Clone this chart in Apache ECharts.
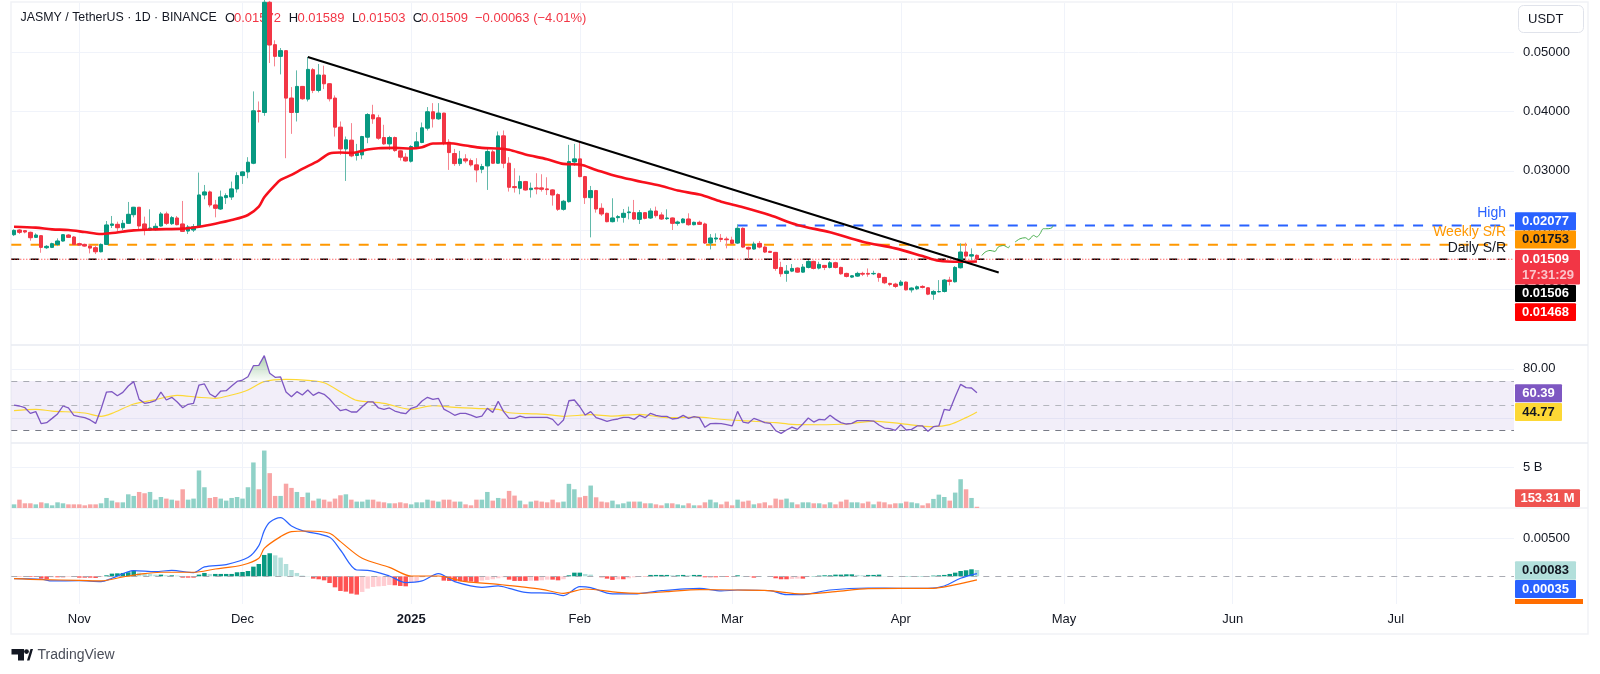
<!DOCTYPE html>
<html>
<head>
<meta charset="utf-8">
<title>JASMY / TetherUS</title>
<script src="https://cdn.jsdelivr.net/npm/echarts@6/dist/echarts.min.js"></script>
<style>
  html, body { margin: 0; padding: 0; background: #fff; }
  #chart { width: 1600px; height: 674px; }
</style>
</head>
<body>
<div id="chart"></div>
<script>
// daily bars from 2024-10-20 to 2025-04-15, prices in units of 0.00001 USDT
const opens = [
  1921,2000,1989,1961,1876,1904,1701,1707,1757,1814,
  1915,1882,1769,1757,1729,1701,1633,1757,2079,2096,
  2039,2113,2259,2384,2102,2000,2006,2068,2271,2107,
  2203,2102,1983,2000,2051,2592,2643,2423,2355,2547,
  2558,2694,2919,2981,3128,4013,3985,5846,5130,4933,
  5029,4228,3985,4425,4211,4707,4358,4617,4470,4228,
  3737,3370,3517,3258,3269,3568,3946,3895,3562,3455,
  3562,3337,3230,3162,3404,3478,3720,3997,3878,3974,
  3483,3292,3122,3201,3173,3100,3026,3083,3320,3128,
  3590,3128,2733,2705,2818,2682,2711,2711,2694,2677,
  2598,2350,2479,3150,3201,2902,2547,2666,2367,2282,
  2141,2209,2214,2293,2293,2180,2293,2203,2321,2254,
  2192,2203,2113,2124,2186,2090,2130,2102,1780,1848,
  1859,1848,1831,1780,2028,1707,1679,1774,1712,1639,
  1622,1368,1267,1306,1357,1289,1368,1470,1357,1402,
  1368,1447,1368,1267,1205,1222,1267,1267,1261,1261,
  1199,1098,1086,1069,1120,990,1007,1047,1024,917,
  957,962,1154,1126,1363,1628,1560,1572
];
const highs = [
  2011,2017,2000,1972,1944,1915,1746,1786,1859,1932,
  1932,1898,1786,1769,1757,1746,1774,2152,2237,2141,
  2169,2474,2384,2384,2226,2350,2113,2305,2310,2237,
  2237,2491,2085,2102,2970,2761,2666,2508,2666,2620,
  2818,2976,2987,3230,4341,4171,5980,5870,5204,5074,
  5029,4414,4696,4425,4922,4735,4803,4775,4470,4273,
  3833,3579,3805,3455,3590,3974,4115,3946,3777,3590,
  3579,3354,3297,3433,3653,3816,4076,4143,4143,3980,
  3534,3370,3337,3280,3207,3213,3117,3399,3354,3664,
  3681,3230,3043,2919,2829,2801,2959,2942,2891,2688,
  2620,2508,3438,3455,3495,2914,2744,2677,2451,2293,
  2536,2254,2355,2395,2508,2338,2299,2367,2395,2299,
  2350,2209,2158,2203,2282,2141,2158,2124,1932,1944,
  1932,1887,1887,2096,2045,1718,1803,1814,1729,1650,
  1628,1464,1408,1425,1368,1425,1492,1481,1464,1408,
  1475,1464,1380,1278,1239,1295,1295,1351,1312,1278,
  1210,1109,1109,1154,1131,1030,1064,1069,1030,985,
  1154,1171,1210,1391,1774,1786,1690,1589
];
const lows = [
  1898,1932,1944,1820,1865,1616,1679,1695,1729,1803,
  1865,1746,1735,1718,1605,1594,1622,1746,2034,1972,
  2000,2102,2214,2011,1910,1983,1989,2056,2085,2085,
  2079,1966,1932,1966,2039,2519,2384,2214,2338,2440,
  2508,2632,2778,2874,3111,3816,3929,4820,4764,4628,
  3213,3624,3833,4200,4171,4312,4324,4380,4171,3579,
  3269,2829,3230,3173,3196,3466,3794,3523,3438,3354,
  3320,3173,3156,3139,3382,3466,3681,3731,3861,3433,
  3015,3083,3083,3128,3072,2806,2959,2677,3117,3117,
  3043,2649,2632,2603,2666,2547,2603,2649,2592,2412,
  2321,2327,2462,3083,2891,2440,1876,2293,2237,2130,
  2130,2141,2124,2180,2169,2102,2180,2186,2209,2169,
  2169,2000,2073,2113,2073,2079,2085,1763,1673,1791,
  1797,1690,1763,1763,1695,1504,1667,1690,1611,1611,
  1312,1210,1126,1289,1278,1278,1351,1334,1334,1323,
  1351,1351,1244,1199,1188,1210,1222,1210,1239,1126,
  1086,1052,1019,1052,979,945,985,1013,900,821,
  945,945,1064,1114,1351,1447,1492,1503
];
const closes = [
  1994,1961,1966,1870,1915,1707,1724,1769,1814,1921,
  1876,1757,1746,1729,1695,1633,1757,2085,2102,2039,
  2113,2265,2384,2068,2011,2034,2062,2271,2113,2209,
  2090,1977,2051,2056,2592,2643,2423,2367,2558,2581,
  2694,2919,2981,3145,4013,4002,5846,5125,4933,5029,
  4228,3985,4425,4217,4713,4358,4617,4470,4217,3737,
  3370,3523,3252,3297,3579,3951,3878,3551,3455,3562,
  3342,3230,3167,3410,3489,3726,3997,3878,3974,3466,
  3308,3122,3201,3167,3100,3015,3072,3325,3128,3590,
  3128,2722,2716,2818,2677,2705,2694,2688,2682,2592,
  2350,2485,3156,3201,2902,2547,2666,2355,2271,2141,
  2203,2226,2282,2305,2186,2293,2197,2321,2243,2186,
  2203,2113,2135,2186,2090,2130,2096,1780,1865,1865,
  1842,1836,1774,2028,1712,1679,1763,1712,1628,1622,
  1351,1261,1306,1351,1289,1374,1470,1351,1419,1368,
  1447,1368,1261,1216,1227,1267,1255,1255,1267,1199,
  1109,1081,1047,1120,990,1019,1041,1030,917,962,
  962,1154,1131,1368,1628,1560,1583,1509
];
// red moving average, [bar, price]
const maPoints = [
  [0,2056],[4,2040],[7,2011],[10,2000],[13,1966],[16,1932],[18,1949],[22,1994],[26,2011],[31,2023],
  [34,2056],[37,2107],[40,2169],[43,2254],[45,2395],[46,2553],[48,2761],[49,2846],[51,2931],[53,3032],
  [56,3173],[58,3292],[60,3308],[62,3303],[65,3359],[67,3382],[70,3387],[73,3376],[75,3399],[77,3461],
  [80,3466],[83,3427],[86,3387],[89,3376],[91,3354],[94,3275],[98,3196],[101,3117],[104,3105],[107,3015],
  [111,2902],[116,2801],[119,2744],[122,2666],[126,2598],[130,2479],[134,2384],[139,2248],[144,2085],
  [150,1961],[156,1803],[162,1690],[167,1560],[170,1481],[174,1464],[177,1468]
];
// drawn levels and lines
const highLevel = 2077;
const weeklyLevel = 1753;
const dailyLevel = 1506;
const highStart = 133;
const trendPoints = [[54,4922],[181,1283]];
const forecastA = [[177.9,1570],[178.5,1626],[179.4,1655],[180.3,1638],[180.9,1711],[181.9,1739],[182.8,1701],[183,1734]];
const forecastB = [[184,1796],[184.9,1852],[185.9,1870],[186.5,1836],[187.4,1909],[188,1881],[188.6,1937],[189.2,2022],[190.1,2022],[190.8,2039],[191,2078]];

const rsiValues = [
  50.4,49.6,48.2,43.6,45.0,35.2,36.0,39.5,43.1,49.6,
  48.0,42.0,40.9,40.1,38.2,35.4,47.1,61.0,61.3,58.0,
  60.7,65.9,69.5,55.0,51.8,52.6,53.9,61.0,54.5,56.7,
  52.9,48.2,51.0,51.8,66.7,67.6,59.4,56.9,61.8,62.1,
  65.9,69.7,70.8,73.5,82.5,82.8,90.7,76.3,73.0,73.3,
  61.0,57.2,61.3,58.6,62.7,58.3,60.7,59.1,55.3,50.1,
  45.8,46.9,44.7,44.7,49.0,52.9,52.9,48.0,46.9,48.0,
  45.5,44.1,43.3,47.7,49.0,53.7,56.7,55.0,55.9,47.1,
  44.7,42.0,43.6,43.6,42.2,40.3,41.4,47.7,44.4,53.4,
  45.0,39.5,39.5,41.4,40.1,40.3,40.3,40.3,40.3,38.7,
  33.8,38.2,53.9,54.5,49.0,42.2,45.0,40.1,38.7,37.1,
  38.2,39.0,40.3,40.3,38.7,42.0,40.1,43.6,42.0,41.2,
  41.2,39.0,39.5,42.0,39.5,40.9,40.1,32.2,35.2,35.4,
  35.2,34.4,33.3,45.2,36.5,35.7,39.5,37.9,36.0,35.4,
  29.5,27.3,30.0,32.4,30.5,34.9,39.8,36.5,38.7,38.2,
  42.0,38.7,36.0,34.9,35.4,37.6,37.6,37.6,37.3,34.1,
  31.6,31.1,29.7,34.4,30.0,30.5,33.3,33.3,28.9,32.7,
  33.3,46.9,46.1,57.2,67.3,64.6,64.3,60.39
];
const rsiMaPoints = [
  [0,45.8],[4,46.9],[7,45.5],[13,43.9],[16,41.2],[18,43.6],[22,51.2],[26,54.8],[30,58.3],[34,56.7],
  [37,55.9],[40,58.6],[43,62.7],[46,69.5],[50,71.4],[54,70.5],[57,68.6],[61,58.6],[63,54.2],[68,51.8],
  [73,46.9],[77,49.9],[81,48.5],[86,47.4],[89,46.9],[91,44.1],[96,43.1],[99,42.2],[101,41.2],[106,42.5],
  [110,41.4],[115,42.8],[120,40.1],[126,40.6],[129,39.2],[134,37.6],[140,36.0],[143,34.6],[148,34.3],
  [153,34.9],[158,37.3],[163,35.2],[169,32.7],[172,34.4],[175,40.1],[177,44.77]
];
// volume in billions
const volumes = [
  .45,1.03,.58,.58,.45,.70,.58,.33,.70,.58,
  .45,.45,.45,.33,.45,.45,.58,1.24,.91,.70,
  .70,1.69,1.49,1.98,1.82,1.98,1.03,1.36,1.16,1.03,
  .91,2.31,1.03,1.16,4.63,2.56,1.24,1.36,1.16,.91,
  1.24,1.36,1.16,2.56,5.62,2.31,7.09,4.30,1.49,1.49,
  3.00,2.48,1.98,1.36,1.90,.91,1.16,1.03,.79,1.16,
  1.57,1.69,1.03,.79,.79,1.03,1.03,.79,.70,.58,
  .58,.70,.58,.45,.70,.70,1.03,.91,.79,1.03,
  1.03,.79,.79,.45,.33,1.03,1.03,1.98,.91,1.24,
  1.16,2.11,1.53,.91,.45,.79,.91,.79,.70,1.03,
  .70,.79,2.98,2.31,1.32,1.49,2.77,1.32,.79,.70,
  .91,.45,.58,.79,.79,.79,.58,.58,.45,.33,
  .58,.58,.45,.33,.58,.33,.33,.70,1.03,.70,
  .45,.79,.33,1.03,.79,.91,.45,.58,.70,.33,
  1.16,1.03,1.16,.70,.45,.70,.70,.58,.58,.45,
  .70,.45,.79,1.03,.70,.70,.58,.79,.45,.79,
  .70,.45,.58,.58,.79,.70,.58,.33,.58,1.12,
  1.65,1.36,.91,1.90,3.55,2.31,1.24,.15331
];
// MACD in units of 0.00001
const macdPoints = [
  [0,-31],[5,-39],[7,-61],[12,-57],[16,-70],[18,-26],[22,75],[26,61],[29,79],[33,48],[35,123],[39,154],
  [43,246],[45,404],[46,601],[47,711],[49,772],[51,662],[53,601],[58,513],[60,346],[63,83],[65,79],[69,4],
  [72,-83],[75,-61],[78,35],[81,-70],[86,-145],[89,-127],[91,-158],[94,-211],[99,-224],[101,-254],[104,-136],
  [106,-149],[110,-232],[114,-232],[119,-189],[126,-158],[130,-193],[133,-180],[139,-189],[142,-241],[145,-241],
  [150,-180],[157,-154],[163,-158],[168,-158],[171,-127],[174,-26],[177,35]
];
const signalPoints = [
  [0,-31],[5,-44],[12,-53],[16,-61],[20,-9],[23,26],[27,53],[33,53],[37,96],[42,149],[45,237],[46,368],
  [49,522],[51,588],[54,596],[58,566],[60,456],[64,237],[69,118],[73,4],[78,4],[83,-70],[89,-105],[93,-136],
  [97,-171],[101,-224],[105,-167],[111,-211],[115,-224],[120,-202],[126,-175],[133,-180],[138,-184],[145,-232],
  [151,-202],[157,-162],[169,-158],[172,-127],[177,-48]
];
const macdHist = [
  -4,-4,-4,-9,-9,-31,-35,-13,-13,-13,
  -9,-9,-18,-18,-18,-22,-9,13,35,39,
  44,53,75,48,39,31,22,22,13,13,
  9,-18,-18,-18,22,44,31,31,31,31,
  31,53,57,70,127,162,281,303,276,246,
  162,83,44,9,4,-31,-39,-53,-88,-145,
  -193,-202,-228,-241,-206,-162,-140,-132,-127,-114,
  -118,-127,-132,-79,-75,-13,0,0,0,-57,
  -61,-63,-66,-68,-70,-75,-57,-48,-39,-26,
  -13,-44,-61,-61,-61,-57,-57,-53,-44,-44,
  -53,-39,13,48,48,31,22,0,-13,-31,
  -48,-39,-39,-26,-13,-4,-4,18,18,18,
  18,13,13,18,13,18,18,-13,-13,-13,
  -9,-9,0,13,4,-4,-18,4,0,0,
  -26,-39,-39,-35,-31,-31,-4,4,9,13,
  13,22,22,26,26,18,13,18,18,22,
  4,4,2,4,4,4,4,4,4,9,
  13,18,31,48,70,79,92,83
];
// time axis
const monthBars = [12, 42, 73, 104, 132, 163, 193, 224, 254];
const monthLabels = ['Nov', 'Dec', '2025', 'Feb', 'Mar', 'Apr', 'May', 'Jun', 'Jul'];
// price axis ticks
const priceTicks = [0.01, 0.02, 0.03, 0.04, 0.05];
const rsiTicks = [40, 80];
const volumeTicks = [5];
const macdTicks = [0.005];

const FONT = '"Liberation Sans", sans-serif';
const UP = '#089981';
const DOWN = '#f23645';
const UP_WICK = '#62b9aa';
const DOWN_WICK = '#f6848f';
const GRID_LINE = '#f0f3fa';
const FRAME = '#e8ebf2';
const OUTER = '#f1f2f6';
const P = 1e-5;

const toPrice = p => [p[0], p[1] * P];

const xMin = -0.5;
const xMax = 275.72;
const left = 11.3;
const width = 1502.7;

function xAxis(gridIndex, showLabels) {
  return {
    type: 'value', gridIndex, min: xMin, max: xMax,
    axisLine: { show: false },
    axisTick: { show: false, customValues: monthBars },
    splitLine: { show: true, lineStyle: { color: GRID_LINE, width: 1 } },
    axisLabel: {
      show: showLabels,
      customValues: monthBars,
      margin: 9,
      fontFamily: FONT, fontSize: 13, color: '#131722',
      formatter: v => {
        const s = monthLabels[monthBars.indexOf(v)];
        return s === '2025' ? '{b|2025}' : s;
      },
      rich: { b: { fontFamily: FONT, fontSize: 13, fontWeight: 'bold', color: '#131722' } }
    }
  };
}
function yAxis(gridIndex, min, max, ticks, fmt) {
  return {
    type: 'value', gridIndex, position: 'right', min, max, scale: true,
    axisLine: { show: false },
    axisTick: { show: false, customValues: ticks },
    splitLine: { show: true, lineStyle: { color: GRID_LINE, width: 1 } },
    axisLabel: { customValues: ticks, margin: 9, fontFamily: FONT, fontSize: 13, color: '#131722', formatter: fmt }
  };
}
function lineOn(grid, name, data, color, w, extra) {
  return Object.assign({
    name, type: 'line', xAxisIndex: grid, yAxisIndex: grid, data,
    showSymbol: false, symbol: 'none', silent: true,
    lineStyle: { color, width: w }, z: 5
  }, extra || {});
}
function hLine(name, x0, value, color, w, dash, z) {
  return lineOn(0, name, [[x0, value * P], [xMax, value * P]], color, w, {
    lineStyle: { color, width: w, type: dash }, z: z || 3
  });
}

const candleData = opens.map((o, i) => [i, o * P, closes[i] * P, lows[i] * P, highs[i] * P]);
// same bars without wicks, drawn over the paler wicks
const bodyData = opens.map((o, i) => [i, o * P, closes[i] * P, Math.min(o, closes[i]) * P, Math.max(o, closes[i]) * P]);
const volumeData = volumes.map((v, i) => ({
  value: [i, v],
  itemStyle: { color: closes[i] >= opens[i] ? '#8fd1c7' : '#f8a5a5' }
}));
const histData = macdHist.map((v, i) => {
  const prev = i ? macdHist[i - 1] : 0;
  let color;
  if (v >= 0) color = v >= prev ? '#089981' : '#b2dfdb';
  else color = v <= prev ? '#ff5252' : '#ffcdd2';
  return { value: [i, v * P], itemStyle: { color } };
});

// side tags
function tag(x, y, w, h, fill, text, color) {
  return [
    { type: 'rect', z: 50, shape: { x, y, width: w, height: h, r: 1 }, style: { fill } },
    { type: 'text', z: 51, x: x + w / 2, y: y + h / 2,
      style: { text, fill: color, font: 'bold 13px ' + FONT, textAlign: 'center', textVerticalAlign: 'middle' } }
  ];
}
function label(x, y, text, color, size) {
  return { type: 'text', z: 1, x, y,
    style: { text, fill: color, font: (size || 13) + 'px ' + FONT, textVerticalAlign: 'middle' } };
}

const graphics = [
  { type: 'rect', z: 0, shape: { x: 11, y: 2, width: 1577, height: 632 }, style: { fill: 'none', stroke: OUTER, lineWidth: 1.5 } },
  { type: 'line', z: 0, shape: { x1: 11, y1: 345, x2: 1588, y2: 345 }, style: { stroke: FRAME, lineWidth: 1.5 } },
  { type: 'line', z: 0, shape: { x1: 11, y1: 443, x2: 1588, y2: 443 }, style: { stroke: FRAME, lineWidth: 1.5 } },
  { type: 'line', z: 0, shape: { x1: 11, y1: 508, x2: 1588, y2: 508 }, style: { stroke: OUTER, lineWidth: 1.5 } },

  label(20.5, 18, 'JASMY / TetherUS · 1D · BINANCE', '#131722', 12.4),
  label(225, 18, 'O', '#131722'), label(234, 18, '0.01572', DOWN),
  label(288.7, 18, 'H', '#131722'), label(297.5, 18, '0.01589', DOWN),
  label(352, 18, 'L', '#131722'), label(358.5, 18, '0.01503', DOWN),
  label(412.7, 18, 'C', '#131722'), label(421, 18, '0.01509', DOWN),
  label(475, 18, '−0.00063 (−4.01%)', DOWN),

  { type: 'rect', z: 50, shape: { x: 1518.5, y: 5.5, width: 65, height: 27, r: 5 }, style: { fill: '#fff', stroke: '#e0e3eb', lineWidth: 1 } },
  { type: 'text', z: 51, x: 1528, y: 19, style: { text: 'USDT', fill: '#131722', font: '13px ' + FONT, textVerticalAlign: 'middle' } },

  { type: 'text', z: 51, x: 1506, y: 213, style: { text: 'High', fill: '#2962ff', font: '14px ' + FONT, textAlign: 'right', textVerticalAlign: 'middle' } },
  { type: 'text', z: 51, x: 1506, y: 232, style: { text: 'Weekly S/R', fill: '#ff9800', font: '14px ' + FONT, textAlign: 'right', textVerticalAlign: 'middle' } },
  { type: 'text', z: 51, x: 1506, y: 248, style: { text: 'Daily S/R', fill: '#131722', font: '14px ' + FONT, textAlign: 'right', textVerticalAlign: 'middle' } },

  ...tag(1515, 212.3, 61, 18, '#2962ff', '0.02077', '#fff'),
  ...tag(1515, 230.5, 61, 18, '#ff9800', '0.01753', '#131722'),
  { type: 'rect', z: 50, shape: { x: 1515, y: 250, width: 65, height: 34.5, r: 1 }, style: { fill: '#f23645' } },
  { type: 'text', z: 51, x: 1545.5, y: 259, style: { text: '0.01509', fill: '#fff', font: 'bold 13px ' + FONT, textAlign: 'center', textVerticalAlign: 'middle' } },
  { type: 'text', z: 51, x: 1548, y: 275, style: { text: '17:31:29', fill: '#fbc4ca', font: 'bold 13px ' + FONT, textAlign: 'center', textVerticalAlign: 'middle' } },
  ...tag(1515, 285, 61, 17, '#000', '0.01506', '#fff'),
  ...tag(1515, 303.3, 61, 17.7, '#ff0000', '0.01468', '#fff'),

  ...tag(1515, 384.3, 47, 18, '#7e57c2', '60.39', '#fff'),
  ...tag(1515, 403, 47, 18, '#fdd835', '44.77', '#131722'),
  ...tag(1515, 489.3, 65, 17.7, '#ef5350', '153.31 M', '#fff'),
  ...tag(1515, 561.3, 61, 18.4, '#b2dfdb', '0.00083', '#131722'),
  ...tag(1515, 580, 61, 18, '#2962ff', '0.00035', '#fff'),
  { type: 'rect', z: 50, shape: { x: 1515, y: 599, width: 68, height: 5 }, style: { fill: '#ff6d00' } },

  // TradingView mark
  { type: 'polygon', z: 50, shape: { points: [[11.5,649],[24,649],[24,660.5],[18,660.5],[18,654.5],[11.5,654.5]] }, style: { fill: '#131722' } },
  { type: 'circle', z: 50, shape: { cx: 26.5, cy: 651.6, r: 2.4 }, style: { fill: '#131722' } },
  { type: 'polygon', z: 50, shape: { points: [[27,660.5],[30.5,649],[33,649],[29.5,660.5]] }, style: { fill: '#131722' } },
  { type: 'text', z: 50, x: 37.5, y: 655, style: { text: 'TradingView', fill: '#4a4e59', font: '14px ' + FONT, textVerticalAlign: 'middle' } }
];

const chart = echarts.init(document.getElementById('chart'), null, { renderer: 'canvas' });
chart.setOption({
  animation: false,
  backgroundColor: '#ffffff',
  grid: [
    { left, width, top: 3, height: 342 },
    { left, width, top: 345, height: 98 },
    { left, width, top: 443, height: 65 },
    { left, width, top: 508, height: 96 }
  ],
  xAxis: [xAxis(0, false), xAxis(1, false), xAxis(2, false), xAxis(3, true)],
  yAxis: [
    yAxis(0, 0.00058, 0.05834, priceTicks, v => v.toFixed(5)),
    yAxis(1, 19.4, 99.4, rsiTicks, v => v.toFixed(2)),
    yAxis(2, 0, 8.02, volumeTicks, v => v + ' B'),
    yAxis(3, -0.003645, 0.008987, macdTicks, v => v.toFixed(5))
  ],
  graphic: { elements: graphics },
  series: [
    hLine('High', highStart, highLevel, '#2962ff', 2, [10, 9.3]),
    hLine('Weekly S/R', xMin, weeklyLevel, '#ff9800', 2, [10, 9.3]),
    hLine('Daily S/R', xMin, dailyLevel, '#000000', 1.6, [8, 11.3]),
    hLine('Daily S/R dots', xMin, dailyLevel, '#ff2a2a', 1, [1, 2], 4),
    {
      name: 'JASMY wicks', type: 'candlestick', xAxisIndex: 0, yAxisIndex: 0,
      data: candleData, barWidth: 2, z: 4, silent: true,
      itemStyle: { color: UP_WICK, color0: DOWN_WICK, borderColor: UP_WICK, borderColor0: DOWN_WICK, borderWidth: 1 }
    },
    {
      name: 'JASMY', type: 'candlestick', xAxisIndex: 0, yAxisIndex: 0,
      data: bodyData, barWidth: 4, z: 4, silent: true,
      itemStyle: { color: UP, color0: DOWN, borderColor: UP, borderColor0: DOWN, borderWidth: 1 }
    },
    lineOn(0, 'MA', maPoints.map(toPrice), '#f7101c', 2.6, { smooth: 0.3, z: 6 }),
    lineOn(0, 'Trend', trendPoints.map(toPrice), '#000000', 2, { z: 7 }),
    lineOn(0, 'Forecast 1', forecastA.map(toPrice), '#4caf50', 1, { smooth: 0.3, z: 7 }),
    lineOn(0, 'Forecast 2', forecastB.map(toPrice), '#4caf50', 1, { smooth: 0.3, z: 7 }),

    lineOn(1, 'RSI above 70', rsiValues.map((v, i) => [i, v]).filter(p => p[1] > 70), '#4caf50', 0, {
      lineStyle: { width: 0, color: '#4caf50' }, z: 3,
      areaStyle: {
        origin: 70,
        color: new echarts.graphic.LinearGradient(0, 0, 0, 1, [
          { offset: 0, color: 'rgba(56,142,60,0.6)' },
          { offset: 1, color: 'rgba(56,142,60,0.03)' }
        ])
      }
    }),
    lineOn(1, 'RSI', rsiValues.map((v, i) => [i, v]), '#7e57c2', 1.3, {
      z: 5,
      markArea: { silent: true, itemStyle: { color: 'rgba(126,87,194,0.1)' }, data: [[{ yAxis: 70 }, { yAxis: 30 }]] },
      markLine: {
        silent: true, symbol: 'none', label: { show: false },
        data: [
          { yAxis: 70, lineStyle: { color: '#a9abb3', type: [6, 6], width: 1 } },
          { yAxis: 50, lineStyle: { color: '#b4b6bd', type: [6, 6], width: 1 } },
          { yAxis: 30, lineStyle: { color: '#787b86', type: [6, 6], width: 1 } }
        ]
      }
    }),
    lineOn(1, 'RSI MA', rsiMaPoints, '#fdd835', 1.2, { smooth: 0.3, z: 4 }),

    { name: 'Volume', type: 'bar', xAxisIndex: 2, yAxisIndex: 2, data: volumeData, barWidth: 4.5, silent: true },

    {
      name: 'MACD hist', type: 'bar', xAxisIndex: 3, yAxisIndex: 3, data: histData, barWidth: 4.5, silent: true,
      markLine: {
        silent: true, symbol: 'none', label: { show: false },
        data: [{ yAxis: 0, lineStyle: { color: '#a9abb3', type: [6, 6], width: 1 } }]
      }
    },
    lineOn(3, 'MACD', macdPoints.map(toPrice), '#2962ff', 1.2, { smooth: 0.3 }),
    lineOn(3, 'Signal', signalPoints.map(toPrice), '#ff6d00', 1.2, { smooth: 0.3, z: 6 })
  ]
});
</script>
</body>
</html>
